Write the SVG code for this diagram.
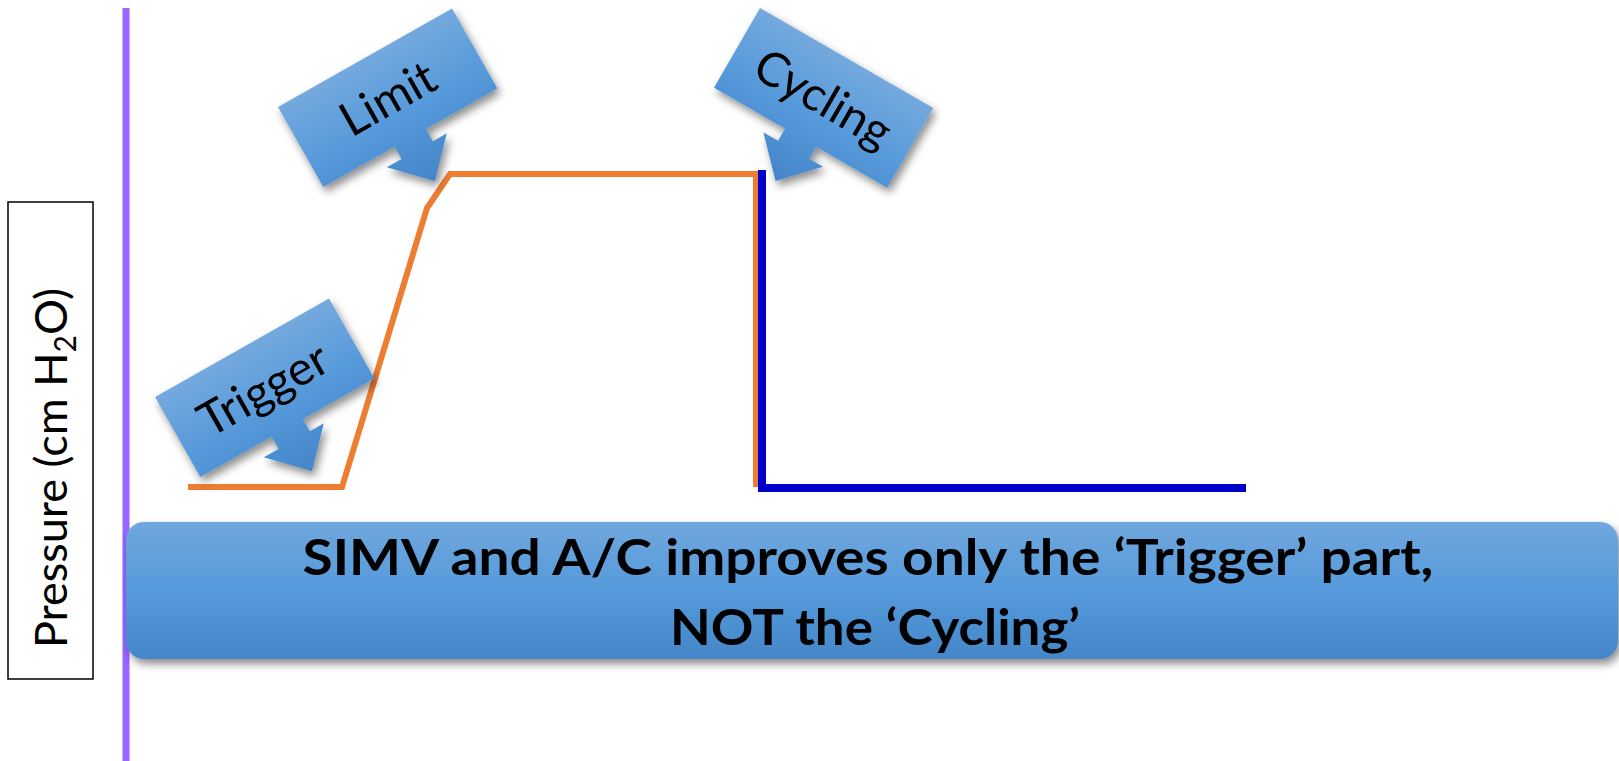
<svg xmlns="http://www.w3.org/2000/svg" width="1619" height="761" viewBox="0 0 1619 761">
<defs>
<linearGradient id="calloutFill" x1="0" y1="0" x2="0" y2="1">
<stop offset="0" stop-color="#74A9DE"/>
<stop offset="0.5" stop-color="#5599DA"/>
<stop offset="1" stop-color="#4485C8"/>
</linearGradient>
<linearGradient id="bannerFill" x1="0" y1="0" x2="0" y2="1">
<stop offset="0" stop-color="#70A7DD"/>
<stop offset="0.5" stop-color="#559ADB"/>
<stop offset="1" stop-color="#4487C9"/>
</linearGradient>
<filter id="shadow" x="-20%" y="-20%" width="140%" height="150%">
<feDropShadow dx="3" dy="5" stdDeviation="4" flood-color="#000" flood-opacity="0.45"/>
</filter>
<path id="callout" d="M0,0 H200 V92 H118 V106 H134 L100,142 L65,106 H82 V92 H0 Z"/>
</defs>
<style>
.callout-shape{fill:url(#calloutFill);}
.callout-text{font-family:Lato,"Open Sans","Liberation Sans",sans-serif;font-size:47px;fill:#000;text-anchor:middle;}
.banner-text{font-family:Lato,"Open Sans","Liberation Sans",sans-serif;font-weight:bold;font-size:49px;fill:#000;text-anchor:middle;}
.axis-text{font-family:Lato,"Open Sans","Liberation Sans",sans-serif;font-size:45px;fill:#000;text-anchor:middle;}
</style>
<rect width="1619" height="761" fill="#FFFFFF"/>

<g id="axis">
<line x1="126" y1="8" x2="126" y2="761" stroke="#9966FF" stroke-width="7"/>
</g>

<g id="y-label">
<rect x="8" y="202" width="85" height="477" fill="#FFFFFF" stroke="#000" stroke-width="1.5"/>
<text class="axis-text" transform="translate(67,468) rotate(-90)">Pressure (cm H<tspan font-size="30" dy="9">2</tspan><tspan dy="-9">O)</tspan></text>
</g>

<g id="connectors" fill="none" stroke-linejoin="miter">
<polyline points="188,487 342,487 427,208 450,174 756,174 756,487" stroke="#ED7D31" stroke-width="6"/>
<polyline points="762,170 762,488 1246,488" stroke="#0000CC" stroke-width="8"/>
</g>

<g id="banner" filter="url(#shadow)">
<rect x="126" y="522" width="1492" height="137" rx="18" ry="18" fill="url(#bannerFill)"/>
<text class="banner-text" x="868" y="575" textLength="1131" lengthAdjust="spacingAndGlyphs">SIMV and A/C improves only the ‘Trigger’ part,</text>
<text class="banner-text" x="875" y="645" textLength="410" lengthAdjust="spacingAndGlyphs">NOT the ‘Cycling’</text>
</g>

<g id="trigger" filter="url(#shadow)">
<g transform="translate(155,397) rotate(-29.5)">
<use href="#callout" class="callout-shape"/>
<text class="callout-text" x="98" y="63">Trigger</text>
</g>
</g>

<g id="limit" filter="url(#shadow)">
<g transform="translate(278,107) rotate(-29.5)">
<use href="#callout" class="callout-shape"/>
<text class="callout-text" x="100" y="63">Limit</text>
</g>
</g>

<g id="cycling" filter="url(#shadow)">
<g transform="translate(760,8) rotate(30)">
<use href="#callout" class="callout-shape"/>
<text class="callout-text" x="100" y="63">Cycling</text>
</g>
</g>
</svg>
